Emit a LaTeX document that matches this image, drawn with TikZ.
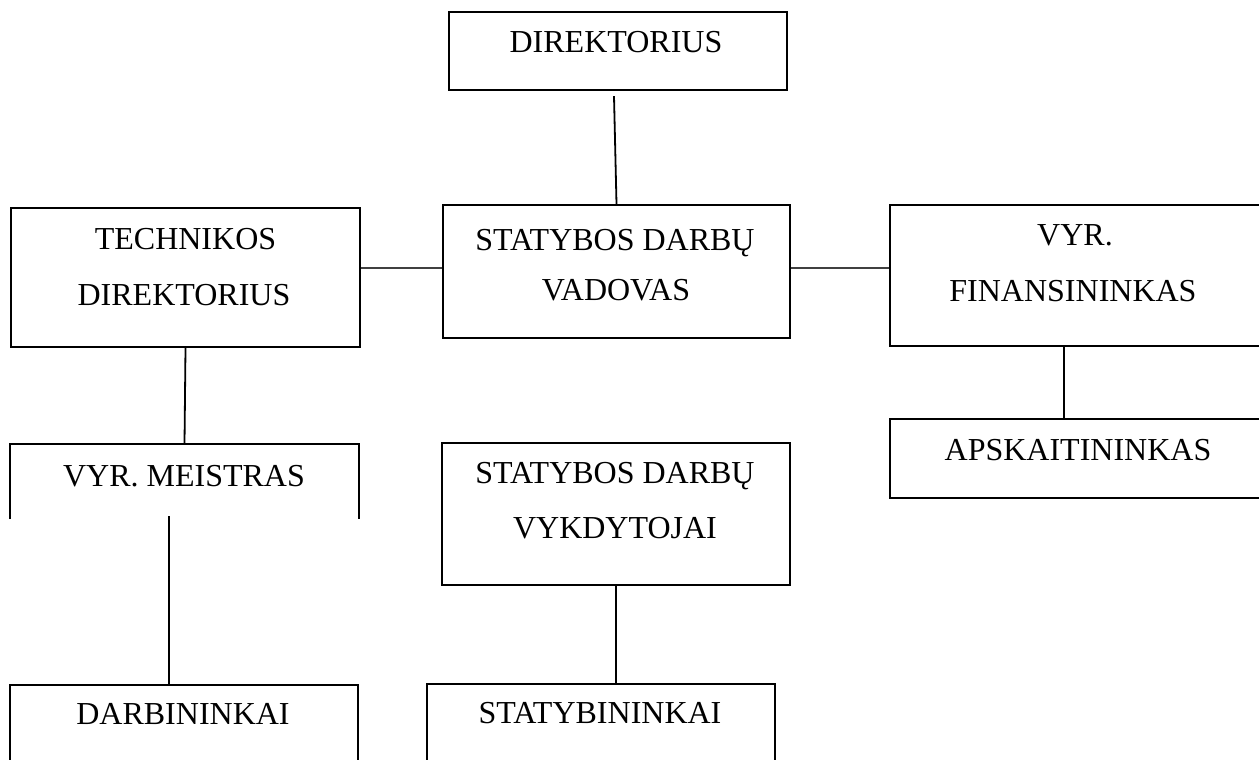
\documentclass[tikz,border=0pt]{standalone}
\usepackage{fontspec}
\setmainfont{Liberation Serif}
\usetikzlibrary{calc}
\tikzset{
  box/.style={draw=black, line width=2.3pt, rectangle, inner sep=0pt},
  openbox/.style={draw=none, rectangle, inner sep=0pt},
  label/.style={anchor=base, inner sep=0pt, font=\fontsize{32}{32}\selectfont},
  link/.style={draw=black, line width=1.8pt},
  hlink/.style={draw=black!75, line width=1.6pt}
}
\begin{document}
\begin{tikzpicture}[x=1pt, y=-1pt]
\useasboundingbox (0,0) rectangle (1259,760);
\clip (0,0) rectangle (1259,760);
\fill[white] (0,0) rectangle (1259,760);

% boxes
\node[box, minimum width=338pt, minimum height=78pt]  (dir)  at (618,51) {};
\node[box, minimum width=349pt, minimum height=139pt] (tech) at (185.5,277.5) {};
\node[box, minimum width=347pt, minimum height=133pt] (vad)  at (616.5,271.5) {};
\node[box, minimum width=372pt, minimum height=141pt] (fin)  at (1076,275.5) {};
\node[box, minimum width=380pt, minimum height=79pt]  (aps)  at (1080,458.5) {};
\node[openbox, minimum width=349pt, minimum height=75pt] (mei) at (184.5,481.5) {};
\draw[line width=2.3pt] (mei.south west) -- (mei.north west) -- (mei.north east) -- (mei.south east);
\node[box, minimum width=348pt, minimum height=142pt] (vyk)  at (616,514) {};
\node[box, minimum width=348pt, minimum height=100pt] (darb) at (184,735) {};
\node[box, minimum width=348pt, minimum height=100pt] (stat) at (601,734) {};

% labels
\node[label] (tdir)   at (616,53)   {DIREKTORIUS};
\node[label] (ttech1) at (185.5,249) {TECHNIKOS};
\node[label] (ttech2) at (184,305)  {DIREKTORIUS};
\node[label] (tvad1)  at (615,250)  {STATYBOS DARBŲ};
\node[label] (tvad2)  at (616,300)  {VADOVAS};
\node[label] (tfin1)  at (1075,245) {VYR.};
\node[label] (tfin2)  at (1073,301) {FINANSININKAS};
\node[label] (taps)   at (1078,460) {APSKAITININKAS};
\node[label] (tmei)   at (184,486)  {VYR. MEISTRAS};
\node[label] (tvyk1)  at (615,483)  {STATYBOS DARBŲ};
\node[label] (tvyk2)  at (615,538)  {VYKDYTOJAI};
\node[label] (tdarb)  at (183,724)  {DARBININKAI};
\node[label] (tstat)  at (600,723)  {STATYBININKAI};

% connectors
\draw[link] ($(dir.south)+(-4,5)$) -- (vad.north);
\draw[hlink] ([yshift=3.5pt]vad.west) -- ([yshift=3.5pt]vad.west -| tech.east);
\draw[hlink] ([yshift=3.5pt]vad.east) -- ([yshift=3.5pt]vad.east -| fin.west);
\draw[link] (tech.south) -- (mei.north);
\coordinate (meiout) at ($(mei.south west)+(159,-3)$);
\draw[link] (meiout) -- (meiout |- darb.north);
\draw[link] (vyk.south) -- (vyk.south |- stat.north);
\coordinate (finout) at ($(fin.south west)+(175,0)$);
\draw[link] (finout) -- (finout |- aps.north);
\end{tikzpicture}
\end{document}
